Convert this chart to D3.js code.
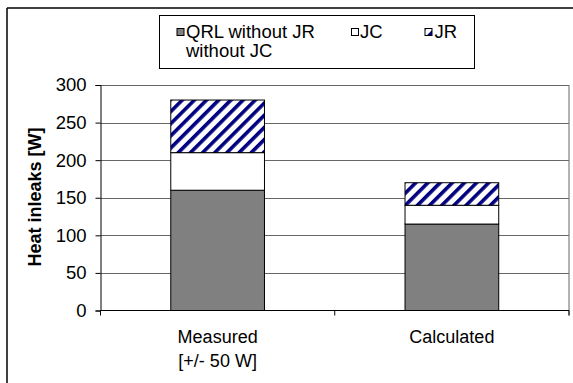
<!DOCTYPE html>
<html>
<head>
<meta charset="utf-8">
<script src="https://cdn.jsdelivr.net/npm/d3@7"></script>
<style>
  html, body { margin: 0; padding: 0; background: #fff; }
  svg { display: block; }
  text { font-family: "Liberation Sans", Arial, sans-serif; fill: #000; }
</style>
</head>
<body>
<svg id="chart" width="573" height="383"></svg>
<script>
// ---- data ----
const categories = ["Measured", "Calculated"];
const categoryLabels = [["Measured", "[+/- 50 W]"], ["Calculated"]];
const seriesNames = ["QRL without JR without JC", "JC", "JR"];
const qrlValues = [160, 115];
const jcValues = [50, 25];
const jrValues = [70, 30];
const yTicks = [0, 50, 100, 150, 200, 250, 300];
const yTitle = "Heat inleaks [W]";

// ---- layout ----
const svg = d3.select("#chart");
const plotLeft = 100.5, plotRight = 569, plotTop = 85, plotBottom = 310.5;

const defs = svg.append("defs");
const pat = defs.append("pattern")
  .attr("id", "hatch")
  .attr("patternUnits", "userSpaceOnUse")
  .attr("width", 8.6).attr("height", 8.6)
  .attr("patternTransform", "rotate(45)");
pat.append("rect").attr("width", 8.6).attr("height", 8.6).attr("fill", "#fff");
pat.append("rect").attr("width", 3.6).attr("height", 8.6).attr("fill", "#000080");

const fills = ["#808080", "#ffffff", "url(#hatch)"];

// outer frame
svg.append("line").attr("x1", 7).attr("x2", 573).attr("y1", 8).attr("y2", 8)
  .attr("stroke", "#000").attr("stroke-width", 1.5);
svg.append("line").attr("x1", 7).attr("x2", 7).attr("y1", 8).attr("y2", 383)
  .attr("stroke", "#000").attr("stroke-width", 1.5);

const y = d3.scaleLinear().domain([0, 300]).range([plotBottom, plotTop]);
const x = d3.scaleBand().domain(categories).range([plotLeft, plotRight])
  .paddingInner(0.6).paddingOuter(0.3);
const xCat = d3.scaleBand().domain(categories).range([plotLeft, plotRight]).padding(0);

// gridlines
svg.append("g").selectAll("line").data(yTicks.filter(d => d > 0)).join("line")
  .attr("x1", plotLeft).attr("x2", plotRight)
  .attr("y1", d => Math.round(y(d)) + 0.5).attr("y2", d => Math.round(y(d)) + 0.5)
  .attr("stroke", "#666").attr("stroke-width", 1);

// right plot edge
svg.append("line").attr("x1", plotRight).attr("x2", plotRight)
  .attr("y1", y(300)).attr("y2", plotBottom + 5)
  .attr("stroke", "#666").attr("stroke-width", 1);

// stacked bars
const table = categories.map((c, i) => ({ cat: c, qrl: qrlValues[i], jc: jcValues[i], jr: jrValues[i] }));
const stack = d3.stack().keys(["qrl", "jc", "jr"])(table);
svg.append("g").selectAll("g").data(stack).join("g")
  .attr("fill", (d, i) => fills[i])
  .selectAll("rect").data(d => d).join("rect")
  .attr("x", d => x(d.data.cat))
  .attr("width", x.bandwidth())
  .attr("y", d => y(d[1]))
  .attr("height", d => y(d[0]) - y(d[1]))
  .attr("stroke", "#000").attr("stroke-width", 1);

// y axis
const yAxis = svg.append("g").attr("transform", `translate(${plotLeft},0)`)
  .call(d3.axisLeft(y).tickValues(yTicks).tickSize(5).tickPadding(9).tickFormat(d3.format("d")));
yAxis.select(".domain").attr("stroke", "#000");
yAxis.selectAll(".tick line").attr("stroke", "#000");
yAxis.selectAll(".tick text").attr("font-size", 18.5)
  .style("font-family", "'Liberation Sans', Arial, sans-serif").attr("fill", "#000");

// x axis
const xAxis = svg.append("g").attr("transform", `translate(0,${plotBottom})`);
xAxis.append("line").attr("x1", plotLeft).attr("x2", plotRight).attr("y1", 0).attr("y2", 0)
  .attr("stroke", "#000");
const bounds = [plotLeft].concat(categories.map(c => xCat(c) + xCat.bandwidth()));
xAxis.selectAll(".xt").data(bounds).join("line").attr("class", "xt")
  .attr("x1", d => d).attr("x2", d => d).attr("y1", 0).attr("y2", 5)
  .attr("stroke", "#000");
xAxis.selectAll(".xl").data(categories).join("text").attr("class", "xl")
  .attr("text-anchor", "middle").attr("font-size", 18)
  .attr("transform", c => `translate(${xCat(c) + xCat.bandwidth() / 2},0)`)
  .each(function (c, i) {
    d3.select(this).selectAll("tspan").data(categoryLabels[i]).join("tspan")
      .attr("x", 0).attr("y", (d, j) => 32.5 + j * 23.5).text(d => d);
  });

// y title
svg.append("text").attr("transform", "translate(41,197) rotate(-90)")
  .attr("text-anchor", "middle").attr("font-size", 18).attr("font-weight", "bold")
  .text(yTitle);

// legend
svg.append("rect").attr("x", 159.5).attr("y", 15.5).attr("width", 315).attr("height", 53)
  .attr("fill", "#fff").attr("stroke", "#000").attr("stroke-width", 1);
const legendItems = [
  { sx: 177, tx: 186, lines: ["QRL without JR", "without JC"] },
  { sx: 351.5, tx: 360, lines: [seriesNames[1]] },
  { sx: 425, tx: 434.5, lines: [seriesNames[2]] }
];
const lg = svg.append("g").selectAll("g").data(legendItems).join("g");
lg.append("rect").attr("x", d => d.sx).attr("y", 28.5).attr("width", 7).attr("height", 7)
  .attr("fill", (d, i) => fills[i]).attr("stroke", "#000").attr("stroke-width", 1);
lg.append("text").attr("font-size", 18.5)
  .each(function (d) {
    d3.select(this).selectAll("tspan").data(d.lines).join("tspan")
      .attr("x", d.tx).attr("y", (t, j) => 37.5 + j * 19.5).text(t => t);
  });
</script>
</body>
</html>
